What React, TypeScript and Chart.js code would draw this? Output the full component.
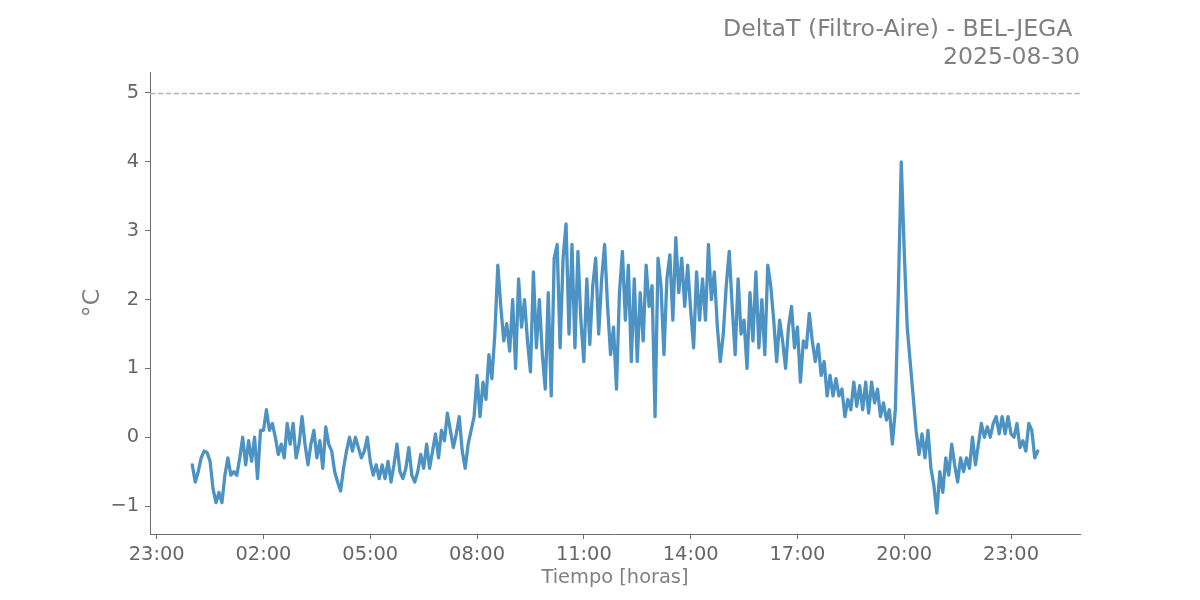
import React, { useEffect, useRef } from "react";
import { Chart, registerables } from "chart.js";

Chart.register(...registerables);

// ---- Text ----
const TITLE_LINE_1 = "DeltaT (Filtro-Aire) - BEL-JEGA ";
const TITLE_LINE_2 = "2025-08-30";
const X_LABEL = "Tiempo [horas]";
const Y_LABEL = "°C";

// ---- Time base (hours relative to 00:00 of the day) ----
const START_HOUR = 0;
const STEP_MINUTES = 5;
const THRESHOLD = 5;
const X_TICK_HOURS = [-1, 2, 5, 8, 11, 14, 17, 20, 23];
const Y_TICKS = [-1, 0, 1, 2, 3, 4, 5];

// ---- DeltaT values, one every 5 minutes, grouped by hour ----
const h00 = [-0.4, -0.65, -0.5, -0.3, -0.2, -0.22, -0.35, -0.75, -0.95, -0.8, -0.95, -0.55];
const h01 = [-0.3, -0.55, -0.5, -0.55, -0.3, 0.0, -0.4, -0.05, -0.35, 0.0, -0.6, 0.1];
const h02 = [0.1, 0.4, 0.1, 0.2, 0.0, -0.25, -0.1, -0.3, 0.2, -0.1, 0.2, -0.3];
const h03 = [-0.1, 0.3, -0.1, -0.4, -0.1, 0.1, -0.3, -0.05, -0.45, 0.15, -0.1, -0.2];
const h04 = [-0.5, -0.65, -0.78, -0.45, -0.2, 0.0, -0.2, 0.0, -0.15, -0.3, -0.2, 0.0];
const h05 = [-0.35, -0.55, -0.4, -0.6, -0.4, -0.6, -0.35, -0.65, -0.4, -0.1, -0.5, -0.6];
const h06 = [-0.45, -0.15, -0.55, -0.65, -0.5, -0.25, -0.45, -0.1, -0.45, -0.2, 0.05, -0.3];
const h07 = [0.1, -0.05, 0.35, 0.1, -0.15, 0.05, 0.3, -0.2, -0.45, -0.1, 0.1, 0.3];
const h08 = [0.9, 0.3, 0.8, 0.55, 1.2, 0.85, 1.5, 2.5, 1.9, 1.4, 1.65, 1.25];
const h09 = [2.0, 1.0, 2.3, 1.6, 2.0, 1.4, 0.95, 2.4, 1.3, 2.0, 1.2, 0.7];
const h10 = [2.1, 0.6, 2.6, 2.8, 1.3, 2.6, 3.1, 1.5, 2.8, 1.3, 2.7, 1.7];
const h11 = [1.1, 2.3, 1.35, 2.2, 2.6, 1.5, 2.3, 2.8, 1.9, 1.2, 1.6, 0.7];
const h12 = [2.1, 2.7, 1.7, 2.5, 1.1, 2.3, 1.1, 2.1, 1.4, 2.5, 1.9, 2.2];
const h13 = [0.3, 2.6, 2.2, 1.2, 2.3, 2.65, 1.7, 2.9, 2.1, 2.6, 1.9, 2.5];
const h14 = [1.85, 1.3, 2.4, 1.7, 2.3, 1.7, 2.8, 2.0, 2.4, 1.6, 1.1, 1.5];
const h15 = [2.2, 2.7, 1.9, 1.2, 2.3, 1.5, 1.7, 1.0, 2.1, 1.4, 2.4, 1.3];
const h16 = [2.0, 1.2, 2.5, 2.2, 1.7, 1.1, 1.7, 1.4, 1.0, 1.6, 1.9, 1.3];
const h17 = [1.6, 0.8, 1.4, 1.3, 1.8, 1.4, 1.1, 1.35, 0.9, 1.1, 0.6, 0.9];
const h18 = [0.6, 0.85, 0.6, 0.7, 0.3, 0.55, 0.4, 0.8, 0.45, 0.75, 0.4, 0.8];
const h19 = [0.35, 0.8, 0.5, 0.7, 0.3, 0.5, 0.25, 0.4, -0.1, 0.4, 2.1, 4.0];
const h20 = [2.7, 1.6, 1.1, 0.6, 0.1, -0.25, 0.05, -0.3, 0.1, -0.45, -0.7, -1.1];
const h21 = [-0.5, -0.8, -0.3, -0.55, -0.1, -0.4, -0.65, -0.3, -0.5, -0.3, -0.45, 0.0];
const h22 = [-0.4, -0.1, 0.2, 0.0, 0.15, 0.0, 0.2, 0.3, 0.05, 0.3, 0.05, 0.3];
const h23 = [0.05, 0.0, 0.2, -0.15, -0.05, -0.2, 0.2, 0.1, -0.3, -0.2];

const DELTA_T = [
  ...h00, ...h01, ...h02, ...h03, ...h04, ...h05, ...h06, ...h07,
  ...h08, ...h09, ...h10, ...h11, ...h12, ...h13, ...h14, ...h15,
  ...h16, ...h17, ...h18, ...h19, ...h20, ...h21, ...h22, ...h23,
];

const FONT = "'DejaVu Sans', sans-serif";
const TEXT_GRAY = "#808080";
const TICK_GRAY = "#666666";
const AXIS_GRAY = "#6e6e6e";

function fmtHour(h: number): string {
  const hh = ((Math.round(h) % 24) + 24) % 24;
  return String(hh).padStart(2, "0") + ":00";
}

export default function App() {
  const canvasRef = useRef<HTMLCanvasElement | null>(null);

  useEffect(() => {
    const canvas = canvasRef.current;
    if (!canvas) return;

    const points = DELTA_T.map((v, i) => ({
      x: START_HOUR + (i * STEP_MINUTES) / 60,
      y: v,
    }));
    const xFirst = points[0].x;
    const xLast = points[points.length - 1].x;
    const xPad = (xLast - xFirst) * 0.05;
    const yLo = Math.min(...DELTA_T, THRESHOLD);
    const yHi = Math.max(...DELTA_T, THRESHOLD);
    const yPad = (yHi - yLo) * 0.05;

    const decor = {
      id: "decor",
      beforeDatasetsDraw(chart: any) {
        const { ctx, chartArea, scales } = chart;
        const y = Math.round(scales.y.getPixelForValue(THRESHOLD)) + 0.5;
        ctx.save();
        ctx.strokeStyle = "#b4b4b4";
        ctx.lineWidth = 1.5;
        ctx.setLineDash([5.5, 2.4]);
        ctx.beginPath();
        ctx.moveTo(chartArea.left, y);
        ctx.lineTo(chartArea.right, y);
        ctx.stroke();
        ctx.restore();
      },
      afterDraw(chart: any) {
        const { ctx, chartArea } = chart;
        ctx.save();
        ctx.fillStyle = TEXT_GRAY;
        ctx.font = `23.6px ${FONT}`;
        ctx.textAlign = "right";
        ctx.textBaseline = "alphabetic";
        ctx.fillText(TITLE_LINE_1, chartArea.right, 36);
        ctx.fillText(TITLE_LINE_2, chartArea.right, 64);

        ctx.font = `19.4px ${FONT}`;
        ctx.textAlign = "center";
        ctx.fillText(X_LABEL, (chartArea.left + chartArea.right) / 2, 583);

        ctx.font = `23.6px ${FONT}`;
        ctx.translate(93, (chartArea.top + chartArea.bottom) / 2);
        ctx.rotate(-Math.PI / 2);
        ctx.textAlign = "center";
        ctx.textBaseline = "middle";
        ctx.fillText(Y_LABEL, 0, 0);
        ctx.restore();
      },
    };

    const chart = new Chart(canvas, {
      type: "line",
      data: {
        datasets: [
          {
            data: points,
            borderColor: "rgba(31,119,180,0.8)",
            borderWidth: 3.3,
            pointRadius: 0,
            tension: 0,
            fill: false,
            borderJoinStyle: "round",
            borderCapStyle: "round",
          },
        ],
      },
      options: {
        animation: false,
        responsive: false,
        maintainAspectRatio: false,
        events: [],
        layout: { padding: { left: 0, right: 120, top: 72, bottom: 0 } },
        plugins: {
          legend: { display: false },
          title: { display: false },
          tooltip: { enabled: false },
        },
        scales: {
          x: {
            type: "linear",
            min: xFirst - xPad,
            max: xLast + xPad,
            afterBuildTicks: (s: any) => {
              s.ticks = X_TICK_HOURS.map((v) => ({ value: v }));
            },
            afterFit: (s: any) => {
              s.height = 66;
            },
            grid: {
              display: true,
              drawOnChartArea: false,
              drawTicks: true,
              tickLength: 5,
              tickColor: AXIS_GRAY,
              tickWidth: 1,
            },
            border: { display: true, color: AXIS_GRAY, width: 1 },
            ticks: {
              autoSkip: false,
              maxRotation: 0,
              minRotation: 0,
              padding: 4,
              color: TICK_GRAY,
              font: { family: FONT, size: 19.4 },
              callback: (v: any) => fmtHour(Number(v)),
            },
          },
          y: {
            type: "linear",
            min: yLo - yPad,
            max: yHi + yPad,
            afterBuildTicks: (s: any) => {
              s.ticks = Y_TICKS.map((v) => ({ value: v }));
            },
            afterFit: (s: any) => {
              s.width = 150;
            },
            grid: {
              display: true,
              drawOnChartArea: false,
              drawTicks: true,
              tickLength: 5,
              tickColor: AXIS_GRAY,
              tickWidth: 1,
            },
            border: { display: true, color: AXIS_GRAY, width: 1 },
            ticks: {
              padding: 6,
              color: TICK_GRAY,
              font: { family: FONT, size: 19.4 },
              callback: (v: any) => {
                const n = Number(v);
                return n < 0 ? "\u2212" + Math.abs(n) : String(n);
              },
            },
          },
        },
      },
      plugins: [decor],
    } as any);

    return () => chart.destroy();
  }, []);

  return (
    <div style={{ position: "absolute", left: 0, top: 0, width: 1200, height: 600, background: "#fff" }}>
      <canvas ref={canvasRef} width={1200} height={600} style={{ display: "block", width: 1200, height: 600 }} />
    </div>
  );
}
